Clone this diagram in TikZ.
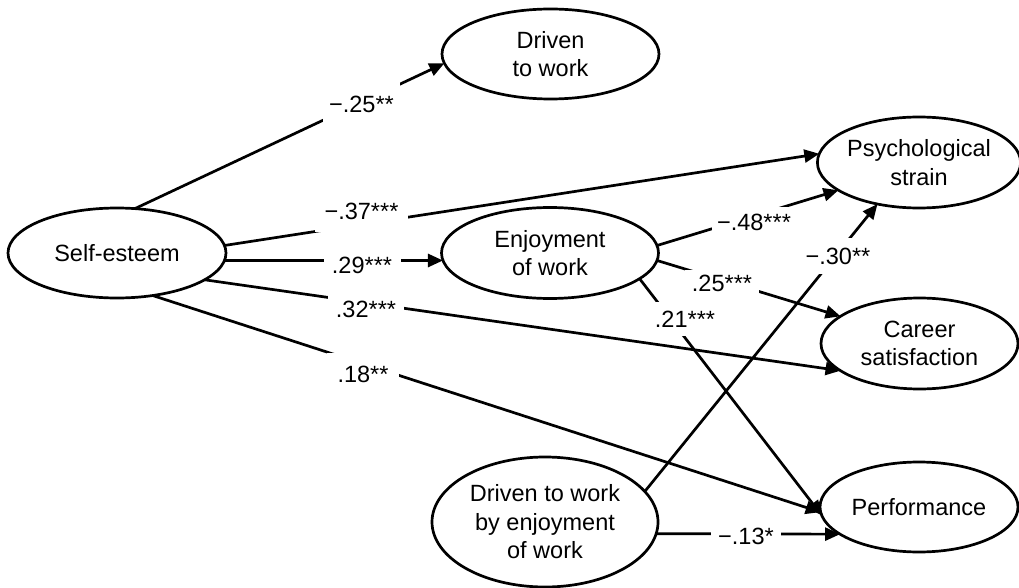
\documentclass[tikz,border=0pt]{standalone}
\usepackage{fontspec}
\setmainfont{Liberation Sans}
\usetikzlibrary{shapes.geometric,arrows.meta}
\begin{document}
\begin{tikzpicture}[x=1pt,y=-1pt,
  var/.style={draw, ellipse, line width=2.7pt, inner sep=0pt, outer sep=0pt,
    align=center, fill=white, font=\fontsize{23.5}{28.5}\selectfont},
  conn/.style={line width=2.7pt, -{Triangle[length=15pt,width=13pt]}},
  lab/.style={fill=white, inner sep=0pt, font=\fontsize{23.5}{28}\selectfont},
]
\useasboundingbox (0,0) rectangle (1019,588);

% variables
\node[var, minimum width=218pt, minimum height=90pt] (se) at (117,253) {Self-esteem};
\node[var, minimum width=217pt, minimum height=90pt] (dw) at (550.5,54) {Driven\\to work};
\node[var, minimum width=217pt, minimum height=91pt] (ew) at (550,253) {Enjoyment\\of work};
\node[var, minimum width=198pt, minimum height=91pt] (ps) at (919,162.5) {Psychological\\strain};
\node[var, minimum width=197pt, minimum height=91pt] (cs) at (919.5,343.5) {Career\\satisfaction};
\node[var, minimum width=198pt, minimum height=90pt] (pf) at (919,507) {Performance};
\node[var, minimum width=226pt, minimum height=130pt] (dwe) at (545,522) {Driven to work\\by enjoyment\\of work};

% connectors
\draw[conn] (se.68)   -- (dw.185);
\draw[conn] (se.4.2)  -- (ps.175.7);
\draw[conn] (se.-4.7) -- (ew.184.8);
\draw[conn] (se.-17.1) -- (cs.199.3);
\draw[conn] (se.-50.9) -- (pf.183.5);
\draw[conn] (ew.4.8)  -- (ps.199.2);
\draw[conn] (ew.-4.8) -- (cs.161.6);
\draw[conn] (ew.-16.7) -- (pf.185.9);
\draw[conn] (dwe.17.4) -- (ps.225.3);
\draw[conn] (dwe.-6.6) -- (pf.199.5);

% coefficient labels (white boxes interrupt the connectors)
\node[lab, minimum width=77pt, minimum height=44pt] (l1) at (361.5,104.5) {−.25**};
\node[lab, minimum width=93pt, minimum height=42pt] (l2) at (361.5,211) {−.37***};
\node[lab, minimum width=77pt, minimum height=28pt] (l3) at (362,265) {.29***};
\node[lab, minimum width=76pt, minimum height=26pt] (l4) at (366,309) {.32***};
\node[lab, minimum width=72pt, minimum height=42pt] (l5) at (363,374) {.18**};
\node[lab, minimum width=84pt, minimum height=32pt] (l6) at (754,222.5) {−.48***};
\node[lab, minimum width=74pt, minimum height=26pt] (l7) at (722,283) {.25***};
\node[lab, minimum width=60pt, minimum height=34pt] (l8) at (685,319) {.21***};
\node[lab, minimum width=66pt, minimum height=36pt] (l9) at (838,256) {−.30**};
\node[lab, minimum width=70pt, minimum height=26pt] (l10) at (746,536) {−.13*};
\end{tikzpicture}
\end{document}
